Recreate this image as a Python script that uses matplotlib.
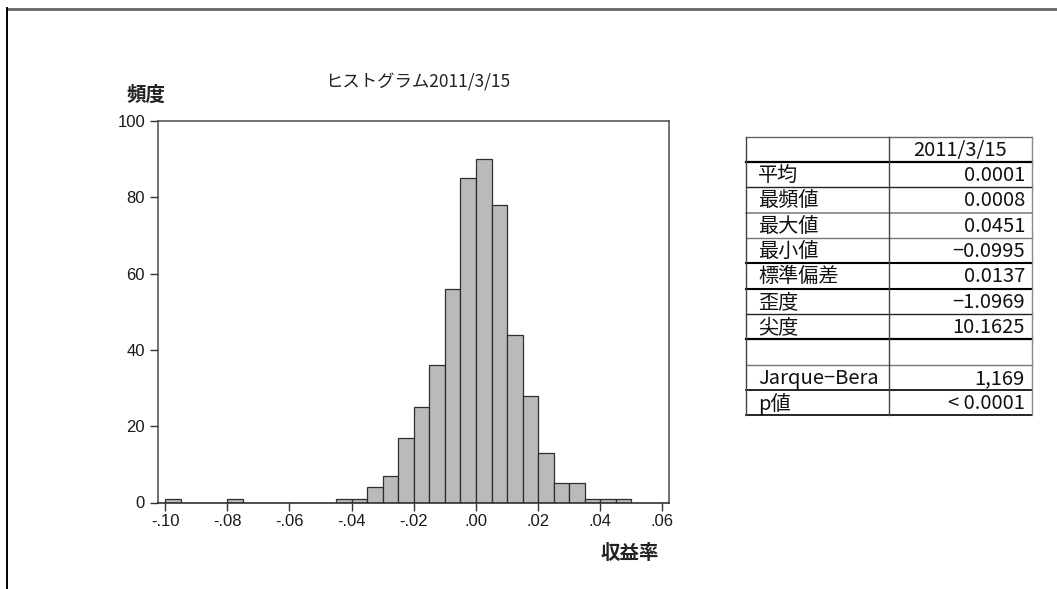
import numpy as np
import matplotlib
matplotlib.use("Agg")
import matplotlib.pyplot as plt
from matplotlib.lines import Line2D

# ---------------- data ----------------
bin_width = 0.005
bin_starts = [-0.100, -0.095, -0.090, -0.085, -0.080, -0.075, -0.070, -0.065, -0.060, -0.055,
              -0.050, -0.045, -0.040, -0.035, -0.030, -0.025, -0.020, -0.015, -0.010, -0.005,
              0.000, 0.005, 0.010, 0.015, 0.020, 0.025, 0.030, 0.035, 0.040, 0.045]
counts = [1, 0, 0, 0, 1, 0, 0, 0, 0, 0, 0, 1, 1, 4, 7, 17, 25, 36, 56, 85,
          90, 78, 44, 28, 13, 5, 5, 1, 1, 1]

x_ticks = [-0.10, -0.08, -0.06, -0.04, -0.02, 0.00, 0.02, 0.04, 0.06]
x_tick_labels = ["-.10", "-.08", "-.06", "-.04", "-.02", ".00", ".02", ".04", ".06"]
y_ticks = [0, 20, 40, 60, 80, 100]
y_tick_labels = ["0", "20", "40", "60", "80", "100"]

title = "ヒストグラム2011/3/15"
y_label = "頻度"
x_label = "収益率"

table_header = "2011/3/15"
stat_names = ["平均", "最頻値", "最大値", "最小値", "標準偏差", "歪度", "尖度", "",
              "Jarque\u2212Bera", "p値"]
stat_values = ["0.0001", "0.0008", "0.0451", "\u22120.0995", "0.0137", "\u22121.0969",
               "10.1625", "", "1,169", "< 0.0001"]

# ---------------- figure ----------------
W, H = 1057, 589
fig = plt.figure(figsize=(W / 100, H / 100), dpi=100)
fig.patch.set_facecolor("white")

JP = ["Noto Sans CJK JP", "DejaVu Sans"]
TICKF = ["Liberation Sans", "DejaVu Sans"]

def fx(px):
    return px / W

def fy(py):
    return 1 - py / H

# outer border (top and left)
fig.add_artist(Line2D([fx(7), 1.0], [fy(8.5), fy(8.5)], color="#666666", lw=2.0))
fig.add_artist(Line2D([fx(7), fx(7)], [fy(8), 0.0], color="black", lw=1.4))

ax = fig.add_axes([fx(158.3), fy(502.5), fx(669.3) - fx(158.3), fy(121) - fy(502.5)])
ax.bar(bin_starts, counts, width=bin_width, align="edge",
       color="#bababa", edgecolor="#2e2e2e", linewidth=0.9, zorder=2)
ax.set_xlim(-0.1022, 0.0622)
ax.set_ylim(0, 100)
ax.set_xticks(x_ticks)
ax.set_xticklabels(x_tick_labels, fontfamily=TICKF, fontsize=12)
ax.set_yticks(y_ticks)
ax.set_yticklabels(y_tick_labels, fontfamily=TICKF, fontsize=12)
ax.tick_params(axis="both", direction="out", width=1.0, color="#333333",
               labelcolor="#1a1a1a")
ax.tick_params(axis="x", length=5.8, pad=2.5)
ax.tick_params(axis="y", length=5.5, pad=4)
for s in ax.spines.values():
    s.set_color("#4a4a4a")
    s.set_linewidth(1.1)
ax.spines["bottom"].set_color("#222222")

fig.text(fx(146), fy(95), y_label, family=JP, fontsize=14, ha="center", va="center",
         color="#222222", weight="bold")
fig.text(fx(418), fy(82), title, family=JP, fontsize=12.5, ha="center", va="center",
         color="#222222")
fig.text(fx(630), fy(553.5), x_label, family=JP, fontsize=14, ha="center", va="center",
         color="#222222", weight="bold")

# ---------------- statistics table ----------------
t_left, t_div, t_right = 746, 889, 1032
row_y = [137, 162, 187, 213, 238, 263, 289, 314, 339, 365, 390, 415]
line_styles = [("#666666", 1.0), ("black", 1.6), ("#222222", 1.0), ("#777777", 1.1),
               ("#777777", 1.0), ("black", 1.5), ("black", 1.5), ("#222222", 1.0),
               ("black", 1.6), ("#777777", 1.0), ("black", 1.2), ("black", 1.2)]
for y, (c, lw) in zip(row_y, line_styles):
    fig.add_artist(Line2D([fx(t_left), fx(t_right)], [fy(y), fy(y)], color=c, lw=lw))
for x, c in [(t_left, "#444444"), (t_div, "#444444"), (t_right, "#888888")]:
    fig.add_artist(Line2D([fx(x), fx(x)], [fy(row_y[0]), fy(row_y[-1])], color=c, lw=1.0))

TF = 14.5
fig.text(fx((t_div + t_right) / 2), fy((row_y[0] + row_y[1]) / 2 + 1), table_header,
         family=JP, fontsize=TF, ha="center", va="center", color="#111111")
for i, (name, val) in enumerate(zip(stat_names, stat_values)):
    yc = (row_y[i + 1] + row_y[i + 2]) / 2 + 1
    if name:
        fig.text(fx(758), fy(yc), name, family=JP, fontsize=TF, ha="left", va="center",
                 color="#111111")
    if val:
        fig.text(fx(1025), fy(yc), val, family=JP, fontsize=TF, ha="right", va="center",
                 color="#111111")

fig.savefig("out.png", dpi=100, facecolor="white")
